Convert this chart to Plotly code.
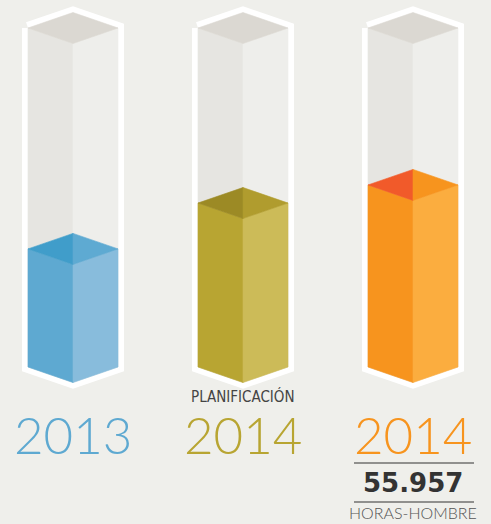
import plotly.graph_objects as go

# ---- data ----
labels = ["2013", "2014", "2014"]
sublabels = ["", "PLANIFICACIÓN", ""]
values = [36300, 50400, 55957]          # horas-hombre
capacity = 104200                       # full height of each column
total_label = "55.957"
unit_label = "HORAS-HOMBRE"

# ---- styles ----
W, H = 491, 524
BG = "#efefeb"
face_colors = [
    dict(left="#5ea9d1", right="#88bcdc", tl="#409dca", tr="#5eaad2", text="#5ea9d1"),
    dict(left="#b8a532", right="#ccbb58", tl="#9c8a25", tr="#b09c2e", text="#b8a532"),
    dict(left="#f7941e", right="#fbad3f", tl="#f15a2a", tr="#f7941e", text="#f7941e"),
]
EMPTY_L, EMPTY_R, EMPTY_T = "#e6e5e1", "#eeeeeb", "#dbd8d2"

# pixel geometry helpers (axis scaling)
x0_px, dx_px = 73, 170            # centre of first column, spacing
half_w_px = 45
base_px, full_px = 367, 339       # bottom side-corner pixel row, column pixel height
diam_px = 15.5                    # half-height of top rhombus

u_per_px_x = 1 / dx_px
u_per_px_y = capacity / full_px
hw = half_w_px * u_per_px_x
d = diam_px * u_per_px_y

x_range = [-x0_px * u_per_px_x, (W - x0_px) * u_per_px_x]
y_range = [-(H - base_px) * u_per_px_y, base_px * u_per_px_y]

fig = go.Figure()

def poly(xs, ys, color, lw=0.6, lcolor=None):
    fig.add_trace(go.Scatter(
        x=xs + [xs[0]], y=ys + [ys[0]], mode="lines", fill="toself",
        fillcolor=color, line=dict(color=lcolor or color, width=lw),
        hoverinfo="skip", showlegend=False))

for i, v in enumerate(values):
    c = face_colors[i]
    cx = i
    L, R = cx - hw, cx + hw
    top = capacity
    # white outline
    poly([L, cx, R, R, cx, L], [top, top + d, top, 0, -d, 0], "#ffffff", lw=12, lcolor="#ffffff")
    # empty prism
    poly([L, cx, cx, L], [top, top - d, -d, 0], EMPTY_L)
    poly([cx, R, R, cx], [top - d, top, 0, -d], EMPTY_R)
    poly([L, cx, R, cx], [top, top + d, top, top - d], EMPTY_T)
    # filled portion
    poly([L, cx, cx, L], [v, v - d, -d, 0], c["left"])
    poly([cx, R, R, cx], [v - d, v, 0, -d], c["right"])
    poly([L, cx, cx], [v, v + d, v - d], c["tl"])
    poly([cx, R, cx], [v + d, v, v - d], c["tr"])

def py(px):
    return 1 - px / H

big_font = dict(family="Lato, 'Open Sans', sans-serif", size=51, weight=300)
for i, lab in enumerate(labels):
    fig.add_annotation(x=i, y=py(434), xref="x", yref="paper", text=lab,
                       showarrow=False, xanchor="center", yanchor="middle",
                       font=dict(big_font, color=face_colors[i]["text"]))
    if sublabels[i]:
        fig.add_annotation(x=i, y=py(396), xref="x", yref="paper", text=sublabels[i],
                           showarrow=False, xanchor="center", yanchor="middle",
                           font=dict(family="'DejaVu Sans Condensed', sans-serif",
                                     size=15, color="#444444"))

fig.add_annotation(x=2, y=py(483), xref="x", yref="paper", text=f"<b>{total_label}</b>",
                   showarrow=False, xanchor="center", yanchor="middle",
                   font=dict(family="'DejaVu Sans', sans-serif", size=26, color="#333333"))
fig.add_annotation(x=2, y=py(512), xref="x", yref="paper", text=unit_label,
                   showarrow=False, xanchor="center", yanchor="middle",
                   font=dict(family="Lato, sans-serif", size=16, weight=300, color="#555555"))
for ypx in (463, 502):
    fig.add_shape(type="line", xref="paper", yref="paper",
                  x0=354 / W, x1=474 / W, y0=py(ypx), y1=py(ypx),
                  line=dict(color="#333333", width=1.2))

fig.update_layout(
    width=W, height=H, margin=dict(l=0, r=0, t=0, b=0),
    paper_bgcolor=BG, plot_bgcolor=BG, showlegend=False,
    xaxis=dict(range=x_range, visible=False, fixedrange=True),
    yaxis=dict(range=y_range, visible=False, fixedrange=True),
)
fig.write_html("out.html", config=dict(displayModeBar=False),
               post_script="document.body.style.margin='0';document.body.style.overflow='hidden';")
